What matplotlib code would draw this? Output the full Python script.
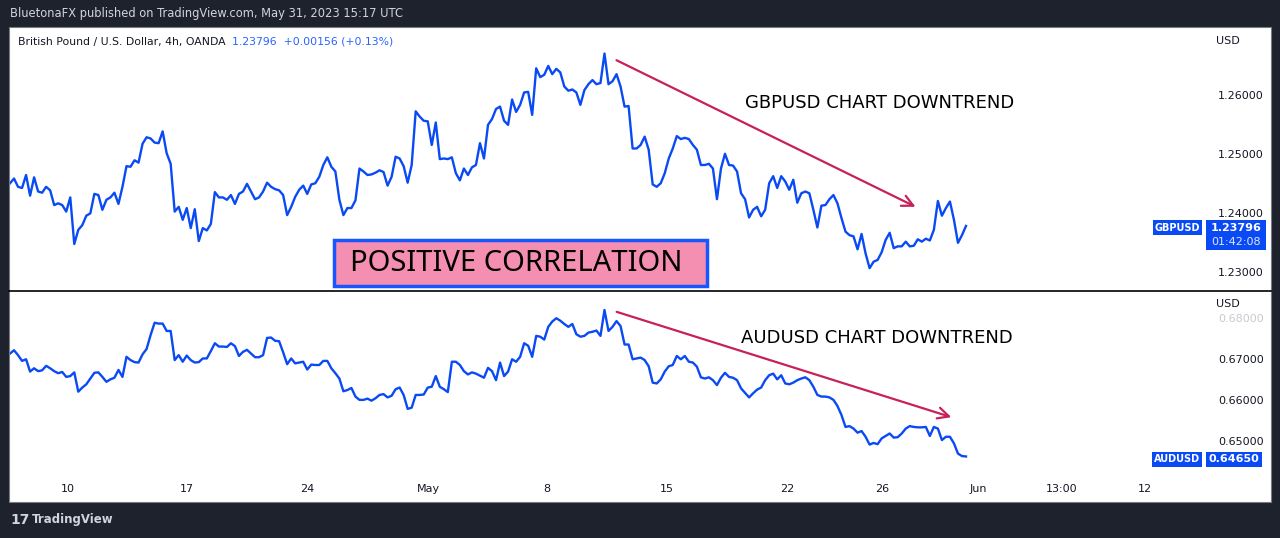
import numpy as np
import matplotlib
matplotlib.use("Agg")
import matplotlib.pyplot as plt
from matplotlib.patches import Rectangle, FancyArrowPatch

gbpusd = [1.2452,1.2460,1.2446,1.2444,1.2466,1.2431,1.2462,1.2438,1.2436,1.2446,1.2440,1.2415,1.2418,1.2415,1.2404,1.2428,
1.2349,1.2373,1.2381,1.2397,1.2401,1.2434,1.2432,1.2407,1.2424,1.2428,1.2436,1.2417,1.2446,1.2481,1.2480,1.2491,1.2487,
1.2519,1.2530,1.2528,1.2521,1.2520,1.2540,1.2503,1.2485,1.2404,1.2412,1.2390,1.2410,1.2376,1.2408,1.2354,1.2376,1.2372,
1.2383,1.2437,1.2428,1.2428,1.2424,1.2432,1.2417,1.2434,1.2438,1.2451,1.2438,1.2425,1.2428,1.2438,1.2453,1.2446,1.2442,
1.2440,1.2432,1.2398,1.2412,1.2429,1.2441,1.2448,1.2434,1.2450,1.2452,1.2463,1.2483,1.2496,1.2480,1.2472,1.2424,1.2398,
1.2410,1.2410,1.2423,1.2477,1.2472,1.2466,1.2467,1.2470,1.2474,1.2471,1.2448,1.2463,1.2497,1.2494,1.2481,1.2453,1.2483,
1.2574,1.2565,1.2558,1.2557,1.2517,1.2555,1.2493,1.2494,1.2493,1.2496,1.2469,1.2457,1.2477,1.2466,1.2479,1.2483,1.2520,
1.2494,1.2551,1.2561,1.2578,1.2582,
1.2558,1.2551,1.2594,1.2573,1.2585,1.2606,1.2607,1.2568,1.2647,1.2632,1.2636,1.2651,1.2637,1.2646,1.2640,1.2616,1.2609,
1.2611,1.2606,1.2585,1.2610,1.2620,1.2627,1.2620,1.2622,1.2672,1.2620,1.2625,1.2637,1.2616,1.2582,1.2583,1.2511,1.2511,
1.2517,1.2531,1.2509,1.2450,1.2446,1.2452,1.2469,1.2494,1.2511,1.2532,1.2527,1.2529,1.2527,1.2517,1.2509,1.2483,1.2483,
1.2485,1.2477,1.2425,1.2477,1.2502,1.2483,1.2482,1.2472,1.2435,1.2425,1.2394,1.2407,1.2412,1.2396,1.2407,1.2452,1.2464,
1.2444,1.2464,1.2455,1.2441,1.2458,1.2419,1.2435,1.2438,1.2435,1.2407,1.2377,1.2414,1.2415,1.2425,1.2432,1.2418,1.2393,
1.2370,1.2364,1.2362,1.2340,1.2366,1.2333,1.2308,1.2319,1.2322,1.2335,1.2356,1.2368,1.2342,1.2345,1.2345,1.2353,1.2345,
1.2346,1.2357,1.2353,1.2358,1.2355,1.2373,1.2422,1.2397,1.2410,1.2421,1.2390,1.2351,1.2364,1.23796]

audusd = [0.6716,0.6724,0.6712,0.6698,0.6702,0.6672,0.6680,0.6673,0.6675,0.6686,0.6680,0.6673,0.6668,0.6671,0.6659,0.6661,
0.6670,0.6623,0.6633,0.6641,0.6655,0.6669,0.6670,0.6659,0.6647,0.6653,0.6657,0.6676,0.6659,0.6708,0.6700,0.6695,0.6694,
0.6714,0.6727,0.6761,0.6791,0.6789,0.6789,0.6771,0.6771,0.6700,0.6712,0.6696,0.6711,0.6700,0.6694,0.6695,0.6704,0.6704,
0.6722,0.6741,0.6733,0.6733,0.6732,0.6741,0.6734,0.6710,0.6720,0.6725,0.6716,0.6707,0.6707,0.6712,0.6754,0.6755,0.6747,
0.6746,0.6719,0.6690,0.6704,0.6692,0.6694,0.6696,0.6677,0.6689,0.6688,0.6688,0.6698,0.6698,0.6680,0.6668,0.6655,0.6624,
0.6627,0.6632,0.6611,0.6603,0.6603,0.6606,0.6601,0.6607,0.6615,0.6617,0.6609,0.6613,0.6629,0.6633,0.6615,0.6581,0.6584,
0.6615,0.6615,0.6616,0.6633,0.6635,0.6661,0.6635,0.6629,0.6622,0.6696,0.6696,0.6688,0.6673,0.6665,0.6670,0.6667,0.6662,
0.6657,0.6681,0.6673,0.6651,0.6694,
0.6661,0.6672,0.6702,0.6696,0.6708,0.6741,0.6735,0.6708,0.6759,0.6757,0.6750,0.6781,0.6794,0.6802,0.6796,0.6788,0.6781,
0.6788,0.6763,0.6757,0.6759,0.6767,0.6769,0.6772,0.6759,0.6822,0.6771,0.6781,0.6795,0.6783,0.6738,0.6738,0.6702,0.6704,
0.6706,0.6700,0.6685,0.6645,0.6643,0.6653,0.6672,0.6685,0.6688,0.6710,0.6702,0.6710,0.6696,0.6694,0.6684,0.6658,0.6655,
0.6658,0.6651,0.6639,0.6657,0.6669,0.6659,0.6657,0.6651,0.6631,0.6620,0.6609,0.6619,0.6628,0.6633,0.6651,0.6663,0.6667,
0.6653,0.6663,0.6643,0.6641,0.6645,0.6651,0.6655,0.6658,0.6651,0.6635,0.6615,0.6611,0.6611,0.6609,0.6603,0.6588,0.6566,
0.6537,0.6539,0.6533,0.6523,0.6527,0.6513,0.6494,0.6498,0.6495,0.6509,0.6515,0.6521,0.6511,0.6512,0.6521,0.6533,0.6539,
0.6537,0.6536,0.6536,0.6537,0.6515,0.6537,0.6533,0.6505,0.6513,0.6513,0.6497,0.6472,0.6466,0.6465]

x_tick_labels = ["10", "17", "24", "May", "8", "15", "22", "26", "Jun", "13:00", "12"]
x_tick_bars = [14.5, 44.25, 74.25, 104.5, 134.25, 164.25, 194.25, 218, 242, 263, 283.75]
gbp_ticks = [1.23, 1.24, 1.25, 1.26]
aud_ticks = [0.65, 0.66, 0.67, 0.68]

W, H = 1280, 538
fig = plt.figure(figsize=(12.8, 5.38), dpi=100)
fig.patch.set_facecolor("#1e222d")

def fx(px): return px / W
def fy(py): return 1 - py / H

# white panel
fig.patches.append(Rectangle((fx(9), fy(502)), fx(1262), 475 / H, transform=fig.transFigure,
                             facecolor="white", edgecolor="#787b86", lw=0.8, zorder=-5))

LINE = "#0a4af5"
XMAX = 297.5
ax1 = fig.add_axes([fx(10), fy(290), fx(1190), 263 / H])
ax2 = fig.add_axes([fx(10), fy(470), fx(1190), 178 / H])
for ax in (ax1, ax2):
    ax.set_facecolor("none")
    ax.set_zorder(2)
    for s in ax.spines.values():
        s.set_visible(False)
    ax.set_xticks([]); ax.set_yticks([])
    ax.set_xlim(0, XMAX)

xg = np.linspace(0, 239, len(gbpusd))
xa = np.linspace(0, 239, len(audusd))
ax1.plot(xg, gbpusd, color=LINE, lw=1.7)
ax1.set_ylim(1.2271, 1.2717)
ax2.plot(xa, audusd, color=LINE, lw=1.7)
ax2.set_ylim(0.6432, 0.6866)

# separator
fig.add_artist(plt.Line2D([fx(9), fx(1271)], [fy(291), fy(291)], transform=fig.transFigure, color="black", lw=1.2))

# price axis labels
tf = dict(fontsize=8, color="#131722", family="DejaVu Sans", va="center", ha="left")
for v in gbp_ticks:
    y = ax1.transData.transform((0, v))[1]
    fig.text(fx(1218), fig.transFigure.inverted().transform((0, y))[1], f"{v:.5f}", **tf)
for v in aud_ticks:
    y = ax2.transData.transform((0, v))[1]
    c = "#c8c9cc" if v == 0.68 else "#131722"
    fig.text(fx(1218), fig.transFigure.inverted().transform((0, y))[1], f"{v:.5f}", **{**tf, "color": c})
fig.text(fx(1216), fy(41), "USD", **tf)
fig.text(fx(1216), fy(304), "USD", **tf)

# x tick labels
for b, lab in zip(x_tick_bars, x_tick_labels):
    xf = fig.transFigure.inverted().transform(ax2.transData.transform((b, 0.66)))[0]
    fig.text(xf, fy(489), lab, fontsize=8, color="#131722", ha="center", va="center")

# last price tags
def tag(x0, y0, w, h):
    fig.patches.append(Rectangle((fx(x0), fy(y0 + h)), w / W, h / H, transform=fig.transFigure,
                                 facecolor="#0a4af5", edgecolor="none", zorder=5))
tag(1153, 220, 49, 15)
tag(1206, 220, 60, 30)
fig.text(fx(1177.5), fy(227.5), "GBPUSD", fontsize=7, weight="bold", color="white", ha="center", va="center", zorder=6)
fig.text(fx(1236), fy(227.5), f"{gbpusd[-1]:.5f}", fontsize=8, weight="bold", color="white", ha="center", va="center", zorder=6)
fig.text(fx(1236), fy(242), "01:42:08", fontsize=8, color="#dfe6ff", ha="center", va="center", zorder=6)
tag(1152, 452, 50, 15)
tag(1206, 452, 56, 15)
fig.text(fx(1177), fy(459.5), "AUDUSD", fontsize=7, weight="bold", color="white", ha="center", va="center", zorder=6)
fig.text(fx(1234), fy(459.5), f"{audusd[-1]:.5f}", fontsize=8, weight="bold", color="white", ha="center", va="center", zorder=6)

# header texts
fig.text(fx(10), fy(14), "BluetonaFX published on TradingView.com, May 31, 2023 15:17 UTC",
         fontsize=8.3, color="#d1d4dc", va="center")
fig.text(fx(18), fy(42), "British Pound / U.S. Dollar, 4h, OANDA", fontsize=7.8, color="#131722", va="center")
fig.text(fx(232), fy(42), "1.23796  +0.00156 (+0.13%)", fontsize=7.8, color="#2962ff", va="center")
fig.text(fx(10), fy(520), "17", fontsize=10, weight="bold", color="#d1d4dc", va="center")
fig.text(fx(32), fy(520), "TradingView", fontsize=8.5, weight="bold", color="#d1d4dc", va="center")

# annotations
AC = "#c8205a"
fig.add_artist(FancyArrowPatch((fx(614), fy(59)), (fx(918), fy(208)), transform=fig.transFigure,
                               arrowstyle="->,head_length=8,head_width=4", color=AC, lw=1.6))
fig.add_artist(FancyArrowPatch((fx(614), fy(311)), (fx(954), fy(418)), transform=fig.transFigure,
                               arrowstyle="->,head_length=8,head_width=4", color=AC, lw=1.6))
fig.text(fx(880), fy(103), "GBPUSD CHART DOWNTREND", fontsize=13, color="black", ha="center", va="center", family="DejaVu Sans")
fig.text(fx(877), fy(338), "AUDUSD CHART DOWNTREND", fontsize=13, color="black", ha="center", va="center", family="DejaVu Sans")

fig.patches.append(Rectangle((fx(334), fy(286)), 373 / W, 46 / H, transform=fig.transFigure,
                             facecolor="#f48fb1", edgecolor="#1a56ff", lw=2.5, zorder=4))
fig.text(fx(516), fy(263), "POSITIVE CORRELATION", fontsize=21, color="black", ha="center", va="center",
         family="Noto Sans", zorder=6)

fig.savefig("out.png", dpi=100, facecolor=fig.get_facecolor())
